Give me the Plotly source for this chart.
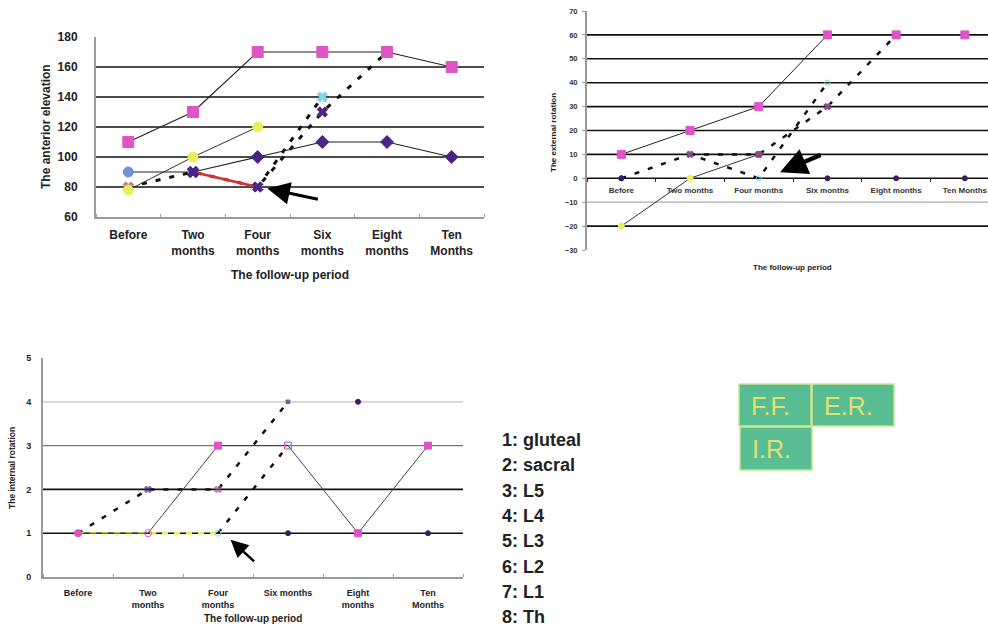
import plotly.graph_objects as go

# ---------------- data ----------------
periods = ["Before", "Two months", "Four months", "Six months", "Eight months", "Ten Months"]
ticks_ff = ["Before", "Two<br>months", "Four<br>months", "Six<br>months", "Eight<br>months", "Ten<br>Months"]
ticks_er = ["Before", "Two months", "Four months", "Six months", "Eight months", "Ten Months"]
ticks_ir = ["Before", "Two<br>months", "Four<br>months", "Six months", "Eight<br>months", "Ten<br>Months"]

# Panel 1: anterior elevation (F.F.)
ff_pink = [110, 130, 170, 170, 170, 160]
ff_purple = [90, 90, 100, 110, 110, 100]
ff_yellow = [78, 100, 120, None, None, None]
ff_dash = [80, 90, 80, 130, 170, None]
ff_red = [None, 90, 80, None, None, None]
ff_cyan = [None, None, 80, 140, None, None]
ff_grid = [80, 100, 120, 140, 160]
ff_yticks = [60, 80, 100, 120, 140, 160, 180]

# Panel 2: external rotation (E.R.)
er_pink = [10, 20, 30, 60, 60, 60]
er_yellow = [-20, 0, 10, None, None, None]
er_purplex = [None, 10, 10, 30, 60, None]
er_cyan = [0, 10, 0, 40, None, None]
er_dark = [0, None, None, 0, 0, 0]
er_grid_black = [60, 50, 40, 30, 20, 10, 0, -20]
er_grid_gray = [-10]
er_yticks = [70, 60, 50, 40, 30, 20, 10, 0, -10, -20, -30]

# Panel 3: internal rotation (I.R.)
ir_pink = [1, 1, 3, 3, 1, 3]
ir_yellow = [1, 1, 1, None, None, None]
ir_dash1 = [1, 2, 2, 4, None, None]
ir_dash2 = [None, None, 1, 3, None, None]
ir_dark = [None, None, None, 1, 4, 1]
ir_grid = {1: "#111111", 2: "#111111", 3: "#777777", 4: "#c4c4c4"}
ir_yticks = [0, 1, 2, 3, 4, 5]

legend_items = ["1: gluteal", "2: sacral", "3: L5", "4: L4", "5: L3", "6: L2", "7: L1", "8: Th"]
box_labels = ["F.F.", "E.R.", "I.R."]

# ---------------- styling ----------------
W, H = 988, 627
PINK = "#dd55c6"
PURPLE = "#4a2585"
DARK = "#3a1d5e"
YELLOW = "#e6ef5a"
CYAN = "#7fd6e6"
BLUE = "#7090d8"
LINE = "#333333"
FONT = "Liberation Sans"
AXC = "#9a9a9a"

def px(xp):
    return xp / W

def py(yp):
    return 1 - yp / H

xs = list(range(len(periods)))

fig = go.Figure()

def add(y, xa, ya, mode="lines+markers", lc=LINE, lw=1.0, dash="solid",
        sym="square", mc=PINK, ms=10, mlc=None):
    fig.add_trace(go.Scatter(
        x=xs, y=y, xaxis=xa, yaxis=ya, mode=mode, connectgaps=False,
        line=dict(color=lc, width=lw, dash=dash),
        marker=dict(symbol=sym, color=mc, size=ms,
                    line=dict(color=mlc if mlc else mc, width=1)),
        showlegend=False, hoverinfo="skip"))

BDASH = "5px,9px"

# ---- panel 1 ----
add(ff_dash, "x", "y", lc="#111111", lw=3, dash=BDASH,
    sym=["x", "x", "x", "x", "x", "x"], mc=["#c08080", PURPLE, PURPLE, PURPLE, PINK, PINK], ms=9)
add(ff_cyan, "x", "y", mode="lines", lc="#111111", lw=3, dash=BDASH)
add(ff_cyan, "x", "y", mode="markers", sym="x", mc=CYAN, ms=9)
add(ff_yellow, "x", "y", lc=LINE, lw=1, sym="circle", mc=YELLOW, ms=10)
add(ff_red, "x", "y", lc="#d83030", lw=2.5, sym="x", mc=PURPLE, ms=9)
add(ff_purple, "x", "y", lc="#222222", lw=1.2,
    sym=["circle", "x", "diamond", "diamond", "diamond", "diamond"],
    mc=[BLUE, PURPLE, PURPLE, PURPLE, PURPLE, PURPLE], ms=10)
add(ff_pink, "x", "y", lc="#222222", lw=1.2, sym="square", mc=PINK, ms=11)

# ---- panel 2 ----
add(er_cyan, "x2", "y2", lc="#111111", lw=2.5, dash=BDASH,
    sym="circle-open", mc=[DARK, PURPLE, CYAN, CYAN, CYAN, CYAN], ms=5)
add(er_purplex, "x2", "y2", lc="#111111", lw=2.5, dash=BDASH, sym="x", mc="#8a4a8a", ms=6)
add(er_yellow, "x2", "y2", lc=LINE, lw=1, sym="circle", mc=[YELLOW, YELLOW, "#8a4a8a"], ms=6)
add(er_pink, "x2", "y2", lc="#222222", lw=1, sym="square", mc=PINK, ms=8)
add(er_dark, "x2", "y2", mode="markers", sym="circle", mc=DARK, ms=5)

# ---- panel 3 ----
add(ir_yellow, "x3", "y3", mode="lines", lc=YELLOW, lw=2.5, dash="6px,6px")
add(ir_dash1, "x3", "y3", lc="#111111", lw=2.5, dash=BDASH,
    sym="x", mc=[PINK, PURPLE, "#9a5aa0", DARK], ms=[6, 6, 6, 4])
add(ir_dash2, "x3", "y3", lc="#111111", lw=2.5, dash=BDASH,
    sym="circle-open", mc=CYAN, ms=6)
add(ir_pink, "x3", "y3", lc="#444444", lw=1,
    sym=["circle", "circle-open", "square", "square-open", "square", "square"], mc=PINK, ms=7)
add(ir_dark, "x3", "y3", mode="markers", sym="circle", mc=DARK, ms=5)

# ---------------- axes ----------------
d1x = [px(96), px(484)]
d1y = [py(217), py(37)]
d2x = [px(587), 1.0]
d2y = [py(250), py(11)]
d3x = [px(43), px(463)]
d3y = [py(577), py(358)]

n = len(periods)
er_xend = -0.5 + (W - 587) / 68.7
er_ymin, er_ymax = -30, 70
zero_pos = d2y[0] + (d2y[1] - d2y[0]) * (0 - er_ymin) / (er_ymax - er_ymin)

minor_cat = dict(tick0=0.5, dtick=1, ticks="inside", ticklen=3, tickcolor=AXC, showgrid=False)

fig.update_layout(
    width=W, height=H, margin=dict(l=0, r=0, t=0, b=0, autoexpand=False),
    paper_bgcolor="white", plot_bgcolor="white",
    font=dict(family=FONT, color="#222222"),
    xaxis=dict(domain=d1x, anchor="y", range=[-0.5, n - 0.5], tickvals=xs, ticktext=ticks_ff,
               showgrid=False, zeroline=False, showline=True, linecolor=AXC, linewidth=2,
               ticks="", minor=minor_cat, ticklabelstandoff=6, automargin=False,
               tickfont=dict(size=12, weight="bold", color="#222")),
    yaxis=dict(domain=d1y, anchor="x", range=[60, 180], tickvals=ff_yticks,
               showgrid=False, zeroline=False, showline=True, linecolor=AXC, linewidth=2,
               ticks="", ticklabelstandoff=14, automargin=False,
               tickfont=dict(size=12, weight="bold", color="#222")),
    xaxis2=dict(domain=d2x, anchor="free", position=zero_pos, range=[-0.5, er_xend],
                tickvals=xs, ticktext=ticks_er, showgrid=False, zeroline=False, showline=False,
                ticks="", minor=dict(tick0=0.5, dtick=1, ticks="outside", ticklen=3,
                                     tickcolor="#333", showgrid=False),
                ticklabelstandoff=6, automargin=False, ticklabeloverflow="allow",
                tickfont=dict(size=8, weight="bold", color="#333")),
    yaxis2=dict(domain=d2y, anchor="x2", range=[er_ymin, er_ymax], tickvals=er_yticks,
                showgrid=False, zeroline=False, showline=True, linecolor=AXC, linewidth=2,
                ticks="outside", ticklen=3, tickcolor=AXC, ticklabelstandoff=3, automargin=False,
                tickfont=dict(size=7.5, weight="bold", color="#333")),
    xaxis3=dict(domain=d3x, anchor="y3", range=[-0.5, n - 0.5], tickvals=xs, ticktext=ticks_ir,
                showgrid=False, zeroline=False, showline=True, linecolor=AXC, linewidth=2,
                ticks="", minor=minor_cat, ticklabelstandoff=6, automargin=False,
                tickfont=dict(size=9, weight="bold", color="#222")),
    yaxis3=dict(domain=d3y, anchor="x3", range=[0, 5], tickvals=ir_yticks,
                showgrid=False, zeroline=False, showline=True, linecolor=AXC, linewidth=2,
                ticks="", ticklabelstandoff=8, automargin=False,
                tickfont=dict(size=9, weight="bold", color="#222")),
)

# ---------------- gridlines ----------------
shapes = []
def hline(v, xr, yr, color, width):
    shapes.append(dict(type="line", xref=xr + " domain", x0=0, x1=1, yref=yr, y0=v, y1=v,
                       line=dict(color=color, width=width), layer="below"))

for v in ff_grid:
    hline(v, "x", "y", "#111111", 1.6)
for v in er_grid_black:
    hline(v, "x2", "y2", "#111111", 1.6)
for v in er_grid_gray:
    hline(v, "x2", "y2", "#aaaaaa", 1.2)
for v, c in ir_grid.items():
    hline(v, "x3", "y3", c, 1.6 if c == "#111111" else 1.2)

# ---------------- F.F./E.R./I.R. boxes ----------------
boxes = [(739, 384, 811, 426), (812, 384, 894, 426), (740, 427, 812, 470)]
anns = []
for (x0, y0, x1, y1), lab in zip(boxes, box_labels):
    shapes.append(dict(type="rect", xref="paper", yref="paper",
                       x0=px(x0), x1=px(x1), y0=py(y1), y1=py(y0),
                       fillcolor="#58bd92", line=dict(color="#cfe48a", width=1.5)))
    anns.append(dict(xref="paper", yref="paper", x=px(x0 + 10), y=py((y0 + y1) / 2 + 1),
                     xanchor="left", yanchor="middle", text=lab, showarrow=False,
                     font=dict(family=FONT, size=25, color="#e2e070")))

fig.update_layout(shapes=shapes)

# ---------------- titles ----------------
def title(text, xp, yp, size, angle=0):
    anns.append(dict(xref="paper", yref="paper", x=px(xp), y=py(yp), text=text,
                     showarrow=False, xanchor="center", yanchor="middle", textangle=angle,
                     font=dict(family=FONT, size=size, weight="bold", color="#222")))

title("The follow-up period", 290, 275, 12)
title("The anterior elevation", 46, 127, 12, -90)
title("The follow-up period", 792, 267, 8)
title("The external rotation", 553, 133, 8, -90)
title("The follow-up period", 253, 618, 10)
title("The internal rotation", 12, 468, 8.5, -90)

# ---------------- legend text ----------------
for i, item in enumerate(legend_items):
    anns.append(dict(xref="paper", yref="paper", x=px(500), y=py(440 + i * 25.3),
                     xanchor="left", yanchor="middle", text=item, showarrow=False,
                     font=dict(family=FONT, size=18, weight="bold", color="#222")))

# ---------------- arrows ----------------
anns.append(dict(xref="x", yref="y", x=2.15, y=79, ax=52, ay=11, text="", showarrow=True,
                 arrowhead=2, arrowsize=1.5, arrowwidth=3, arrowcolor="#000"))
anns.append(dict(xref="x2", yref="y2", x=2.31, y=2.5, ax=42, ay=-18, text="", showarrow=True,
                 arrowhead=2, arrowsize=1.2, arrowwidth=4.5, arrowcolor="#000"))
anns.append(dict(xref="x3", yref="y3", x=2.18, y=0.85, ax=25, ay=23, text="", showarrow=True,
                 arrowhead=2, arrowsize=1.4, arrowwidth=2.5, arrowcolor="#000"))

fig.update_layout(annotations=anns)

fig.write_html("out.html", config={"displayModeBar": False},
               post_script="document.body.style.margin='0px';document.body.style.overflow='hidden';")
